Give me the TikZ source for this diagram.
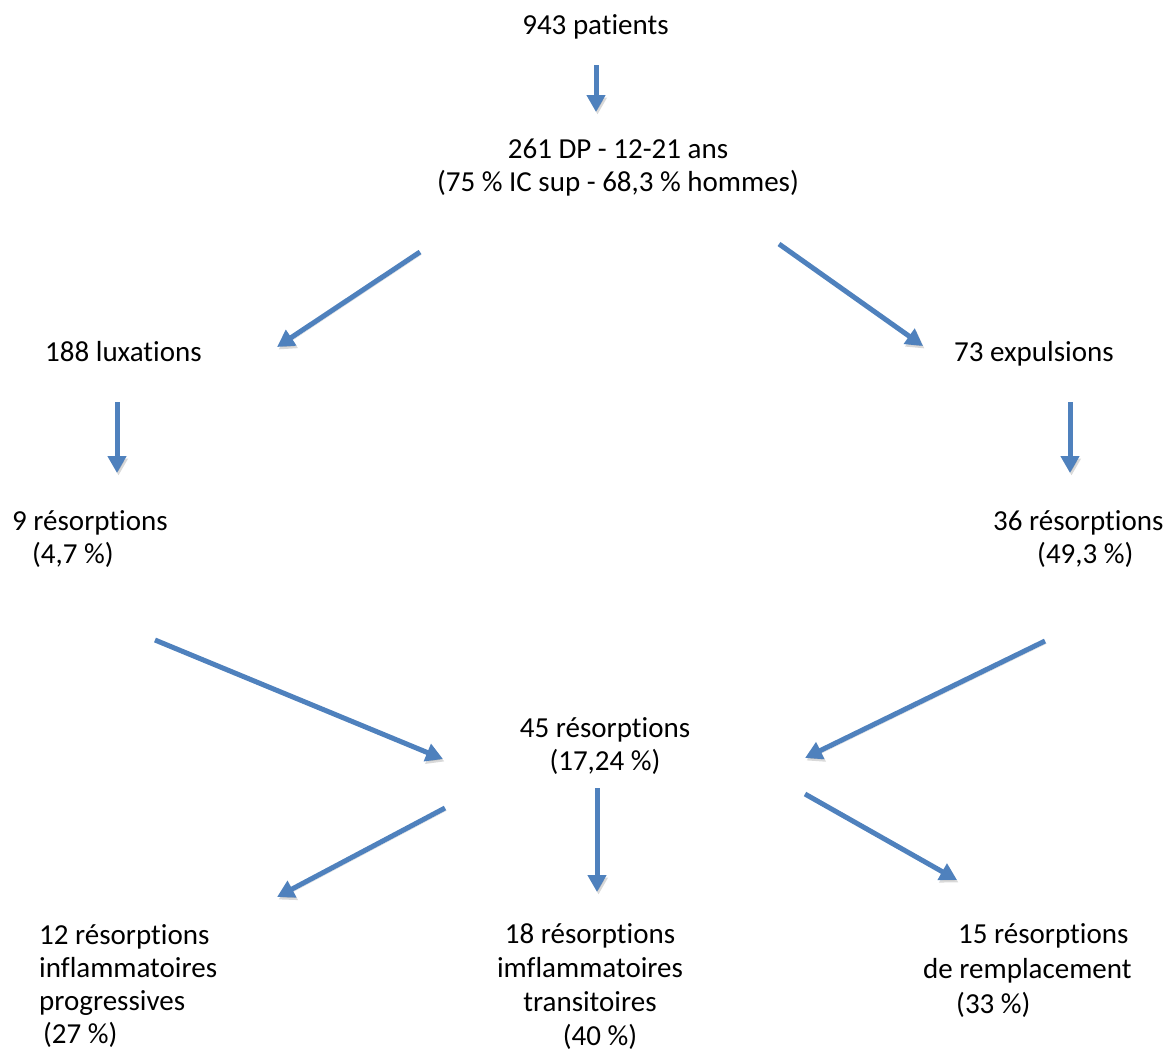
\documentclass[tikz,border=0pt]{standalone}
\usepackage{fontspec}
\setmainfont{Carlito}[Ligatures=NoCommon]
\usetikzlibrary{arrows.meta}
\definecolor{arrowblue}{HTML}{4F81BD}
\begin{document}
\begin{tikzpicture}[x=1pt,y=-1pt,
  txt/.style={inner sep=0pt, font=\fontsize{29}{33}\selectfont},
  flow/.style={draw=arrowblue, line width=5pt,
    -{Triangle[length=17pt,width=18pt]},
    preaction={draw=black, opacity=0.15, transform canvas={shift={(1.5pt,-2.5pt)}}}}]
\useasboundingbox (0,0) rectangle (1172,1052);

% texts (anchor base = baseline of the last line)
\node[txt, anchor=base] (n943) at (595.5,34) {943 patients};
\node[txt, anchor=base, align=center] (n261) at (618,191)
  {261 DP - 12-21 ans\\(75 \% IC sup - 68,3 \% hommes)};
\node[txt, anchor=base west] (nlux) at (45,361) {188 luxations};
\node[txt, anchor=base west] (nexp) at (954,361) {73 expulsions};
\node[txt, anchor=base west, align=left] (nres9) at (12,563)
  {9 résorptions\\\hspace*{20pt}(4,7 \%)};
\node[txt, anchor=base west, align=left] (nres36) at (993,563)
  {36 résorptions\\\hspace*{44pt}(49,3 \%)};
\node[txt, anchor=base, align=center] (nres45) at (605,770)
  {45 résorptions\\(17,24 \%)};
\node[txt, anchor=base west, align=left, font=\fontsize{29}{33}\selectfont] (nprog) at (39,1043)
  {12 résorptions\\inflammatoires\\progressives\\\hspace*{4pt}(27 \%)};
\node[txt, anchor=base, align=center, font=\fontsize{29}{34}\selectfont] (ntrans) at (590,1045)
  {18 résorptions\\imflammatoires\\transitoires\\\hspace*{20pt}(40 \%)};
\node[txt, anchor=base west, align=left, font=\fontsize{29}{35}\selectfont] (nremp) at (923,1013)
  {\hspace*{35pt}15 résorptions\\de remplacement\\\hspace*{33pt}(33 \%)};

% arrow end points
\coordinate (a1s) at (596,65);   \coordinate (a1e) at (596,112);
\coordinate (a2s) at (420,252);  \coordinate (a2e) at (277,347);
\coordinate (a3s) at (779,244);  \coordinate (a3e) at (923,346);
\coordinate (a4s) at (117,402);  \coordinate (a4e) at (117,473);
\coordinate (a5s) at (1070,402); \coordinate (a5e) at (1070,473);
\coordinate (a6s) at (155,640);  \coordinate (a6e) at (443,759);
\coordinate (a7s) at (1045,641); \coordinate (a7e) at (805,758);
\coordinate (a8s) at (445,808);  \coordinate (a8e) at (277,897);
\coordinate (a9s) at (597,788);  \coordinate (a9e) at (597,892);
\coordinate (a10s) at (805,794); \coordinate (a10e) at (957,880);

\draw[flow] (a1s) -- (a1e);
\draw[flow] (a2s) -- (a2e);
\draw[flow] (a3s) -- (a3e);
\draw[flow] (a4s) -- (a4e);
\draw[flow] (a5s) -- (a5e);
\draw[flow] (a6s) -- (a6e);
\draw[flow] (a7s) -- (a7e);
\draw[flow] (a8s) -- (a8e);
\draw[flow] (a9s) -- (a9e);
\draw[flow] (a10s) -- (a10e);
\end{tikzpicture}
\end{document}
